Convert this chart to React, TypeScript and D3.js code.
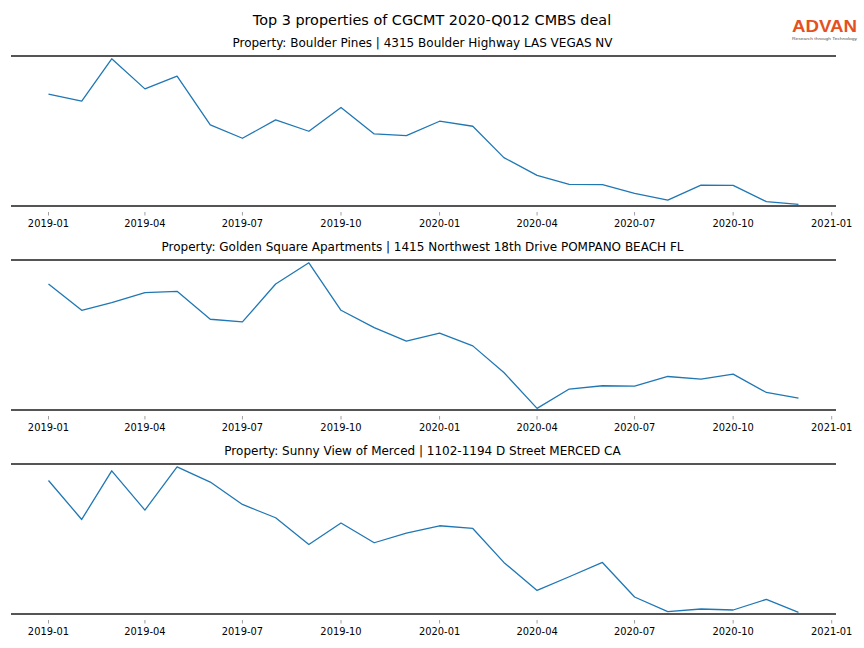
import React from "react";
import * as d3 from "d3";

const MONTHS = [
  "2019-01", "2019-02", "2019-03", "2019-04", "2019-05", "2019-06",
  "2019-07", "2019-08", "2019-09", "2019-10", "2019-11", "2019-12",
  "2020-01", "2020-02", "2020-03", "2020-04", "2020-05", "2020-06",
  "2020-07", "2020-08", "2020-09", "2020-10", "2020-11", "2020-12",
];

const BOULDER_PINES = [
  1120, 1050, 1473, 1173, 1300, 813, 680, 863, 750, 987, 723, 707,
  850, 800, 487, 310, 220, 218, 130, 63, 213, 210, 47, 20,
];
const GOLDEN_SQUARE = [
  1260, 997, 1073, 1173, 1187, 907, 880, 1260, 1473, 997, 823, 687,
  767, 640, 373, 13, 207, 240, 237, 333, 307, 357, 173, 117,
];
const SUNNY_VIEW = [
  1343, 953, 1440, 1047, 1480, 1327, 1103, 970, 703, 917, 720, 817,
  890, 863, 523, 243, 380, 523, 177, 30, 57, 47, 153, 23,
];

const MAIN_TITLE = "Top 3 properties of CGCMT 2020-Q012 CMBS deal";
const PANEL_TITLES = [
  "Property: Boulder Pines | 4315 Boulder Highway LAS VEGAS NV",
  "Property: Golden Square Apartments | 1415 Northwest 18th Drive POMPANO BEACH FL",
  "Property: Sunny View of Merced | 1102-1194 D Street MERCED CA",
];
const SERIES = [BOULDER_PINES, GOLDEN_SQUARE, SUNNY_VIEW];

const W = 864;
const H = 648;
const LEFT = 11;
const RIGHT = 836;
const PANEL_TOPS = [56, 260, 464];
const PANEL_H = 150;
const FONT = "DejaVu Sans, sans-serif";

const parse = d3.timeParse("%Y-%m");
const dates = MONTHS.map((m) => parse(m) as Date);
const d0 = dates[0].getTime();
const d1 = dates[dates.length - 1].getTime();
const pad = (d1 - d0) * 0.05;
const x = d3
  .scaleTime()
  .domain([new Date(d0 - pad), new Date(d1 + pad)])
  .range([LEFT, RIGHT]);
const ticks = d3.timeMonth.every(3)!.range(parse("2019-01")!, new Date(2021, 0, 2));
const fmt = d3.timeFormat("%Y-%m");

function Panel({ top, title, values }: { top: number; title: string; values: number[] }) {
  const bottom = top + PANEL_H;
  const ext = d3.extent(values) as [number, number];
  const y = d3.scaleLinear().domain(ext).range([bottom - 1.6, top + 2.8]);
  const line = d3
    .line<number>()
    .x((_, i) => x(dates[i]))
    .y((v) => y(v));
  return (
    <g>
      <text x={(LEFT + RIGHT) / 2 - 1} y={top - 9.5} textAnchor="middle" fontSize={12} fontFamily={FONT} fill="#000">
        {title}
      </text>
      <path d={line(values) || ""} fill="none" stroke="#1f77b4" strokeWidth={1.3} strokeLinejoin="round" />
      <line x1={LEFT} x2={RIGHT} y1={top} y2={top} stroke="#555" strokeWidth={2} />
      <line x1={LEFT} x2={RIGHT} y1={bottom} y2={bottom} stroke="#555" strokeWidth={2} />
      {ticks.map((t) => (
        <g key={fmt(t)}>
          <line x1={x(t)} x2={x(t)} y1={bottom + 6} y2={bottom + 9.5} stroke="#888" strokeWidth={0.8} />
          <text x={x(t)} y={bottom + 21} textAnchor="middle" fontSize={9.9} fontFamily={FONT} fill="#000">
            {fmt(t)}
          </text>
        </g>
      ))}
    </g>
  );
}

export default function App() {
  return (
    <svg
      width={W}
      height={H}
      viewBox={`0 0 ${W} ${H}`}
      style={{ position: "absolute", left: 0, top: 0, background: "#fff" }}
    >
      <rect width={W} height={H} fill="#fff" />
      <text x={432} y={24.5} textAnchor="middle" fontSize={14.4} fontFamily={FONT} fill="#000">
        {MAIN_TITLE}
      </text>
      <text
        x={792}
        y={32}
        fontSize={16}
        fontWeight={700}
        fontFamily="Liberation Sans, Arial, sans-serif"
        fill="#e4511f"
        textLength={65}
        lengthAdjust="spacingAndGlyphs"
      >
        ADVAN
      </text>
      <text
        x={792}
        y={39.5}
        fontSize={4}
        fontFamily="Liberation Sans, Arial, sans-serif"
        fill="#555"
        textLength={65}
        lengthAdjust="spacingAndGlyphs"
      >
        Research through Technology
      </text>
      {PANEL_TOPS.map((top, i) => (
        <Panel key={i} top={top} title={PANEL_TITLES[i]} values={SERIES[i]} />
      ))}
    </svg>
  );
}
